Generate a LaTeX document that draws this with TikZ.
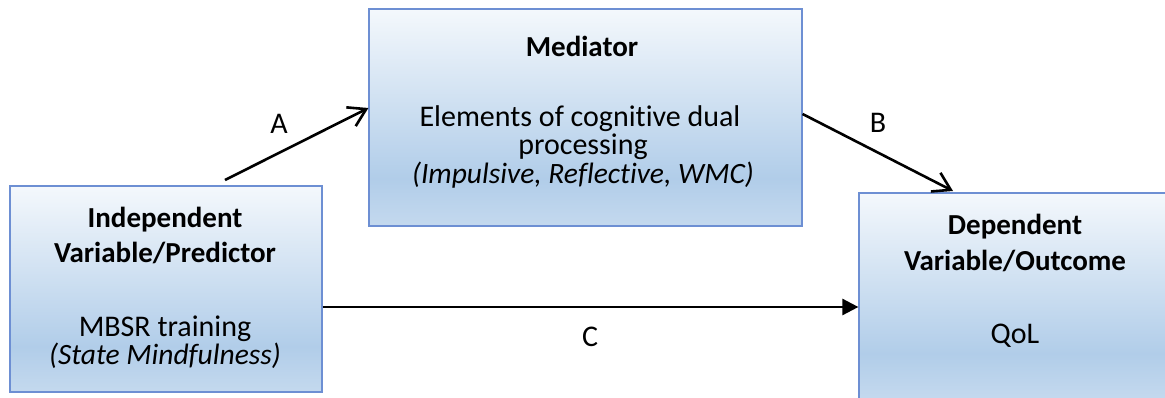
\documentclass[tikz,border=0pt]{standalone}
\usepackage{fontspec}
\setmainfont{Carlito}[Ligatures={NoCommon}]
\usetikzlibrary{arrows.meta}

\definecolor{edge}{HTML}{6D8FD3}
\definecolor{filltop}{HTML}{F4F8FC}
\definecolor{fillmid}{HTML}{B1CDE9}
\definecolor{fillbot}{HTML}{C4D9EE}

% soft top-to-bottom blue fill used by every box (central 25bp..75bp maps onto the box)
\pgfdeclareverticalshading{panelfill}{100bp}{%
  color(0bp)=(fillbot); color(25bp)=(fillbot); color(36bp)=(fillmid);
  color(75bp)=(filltop); color(100bp)=(filltop)}

\tikzset{
  panel/.style={draw=edge, line width=1.2pt, shading=panelfill, inner sep=0pt},
  txt/.style={anchor=base, inner sep=0pt, font=\fontsize{30}{32}\selectfont},
  ttl/.style={txt, font=\fontsize{29}{32}\selectfont\bfseries},
  itl/.style={txt, font=\fontsize{29.5}{32}\selectfont\itshape},
  link/.style={line width=2.6pt, black},
  openhead/.style={link, -{Straight Barb[length=17pt, width=21pt, line width=2.6pt]}},
  solidhead/.style={link, -{Triangle[length=16pt, width=16pt]}},
}

\begin{document}
\begin{tikzpicture}[x=1pt, y=-1pt]
  \useasboundingbox (0,0) rectangle (1165,397);
  \fill[white] (0,0) rectangle (1165,397);
  \clip (0,0) rectangle (1165,397);

  % boxes
  \node[panel, minimum width=312pt, minimum height=206pt] (iv)  at (166,289)   {};
  \node[panel, minimum width=433pt, minimum height=217pt] (med) at (585.5,117.5) {};
  \node[panel, minimum width=312pt, minimum height=206pt] (dv)  at (1015,296)  {};

  % independent variable
  \node[ttl] (iv1) at (165,227) {Independent};
  \node[ttl] (iv2) at (165,262) {Variable/Predictor};
  \node[txt] (iv3) at (165,336) {MBSR training};
  \node[itl] (iv4) at (165,364) {(State Mindfulness)};

  % mediator
  \node[ttl] (md1) at (582,56)  {Mediator};
  \node[txt] (md2) at (580,126) {Elements of cognitive dual};
  \node[txt] (md3) at (583,154) {processing};
  \node[itl] (md4) at (583,183) {(Impulsive, Reflective, WMC)};

  % dependent variable
  \node[ttl] (dv1) at (1015,234) {Dependent};
  \node[ttl] (dv2) at (1015,270) {Variable/Outcome};
  \node[txt] (dv3) at (1015,343) {QoL};

  % paths
  \coordinate (a0) at (225,180);
  \coordinate (a1) at (med.west |- 0,108);
  \coordinate (b0) at (med.east |- 0,114);
  \coordinate (b1) at (953,191);
  \coordinate (c0) at (iv.east |- 0,307);
  \coordinate (c1) at (dv.west |- 0,307);

  \draw[openhead]  (a0) -- (a1);
  \draw[openhead]  (b0) -- (b1);
  \draw[solidhead] (c0) -- (c1);

  \node[txt] (la) at (279,133) {A};
  \node[txt] (lb) at (878,132) {B};
  \node[txt] (lc) at (590,346) {C};
\end{tikzpicture}
\end{document}
